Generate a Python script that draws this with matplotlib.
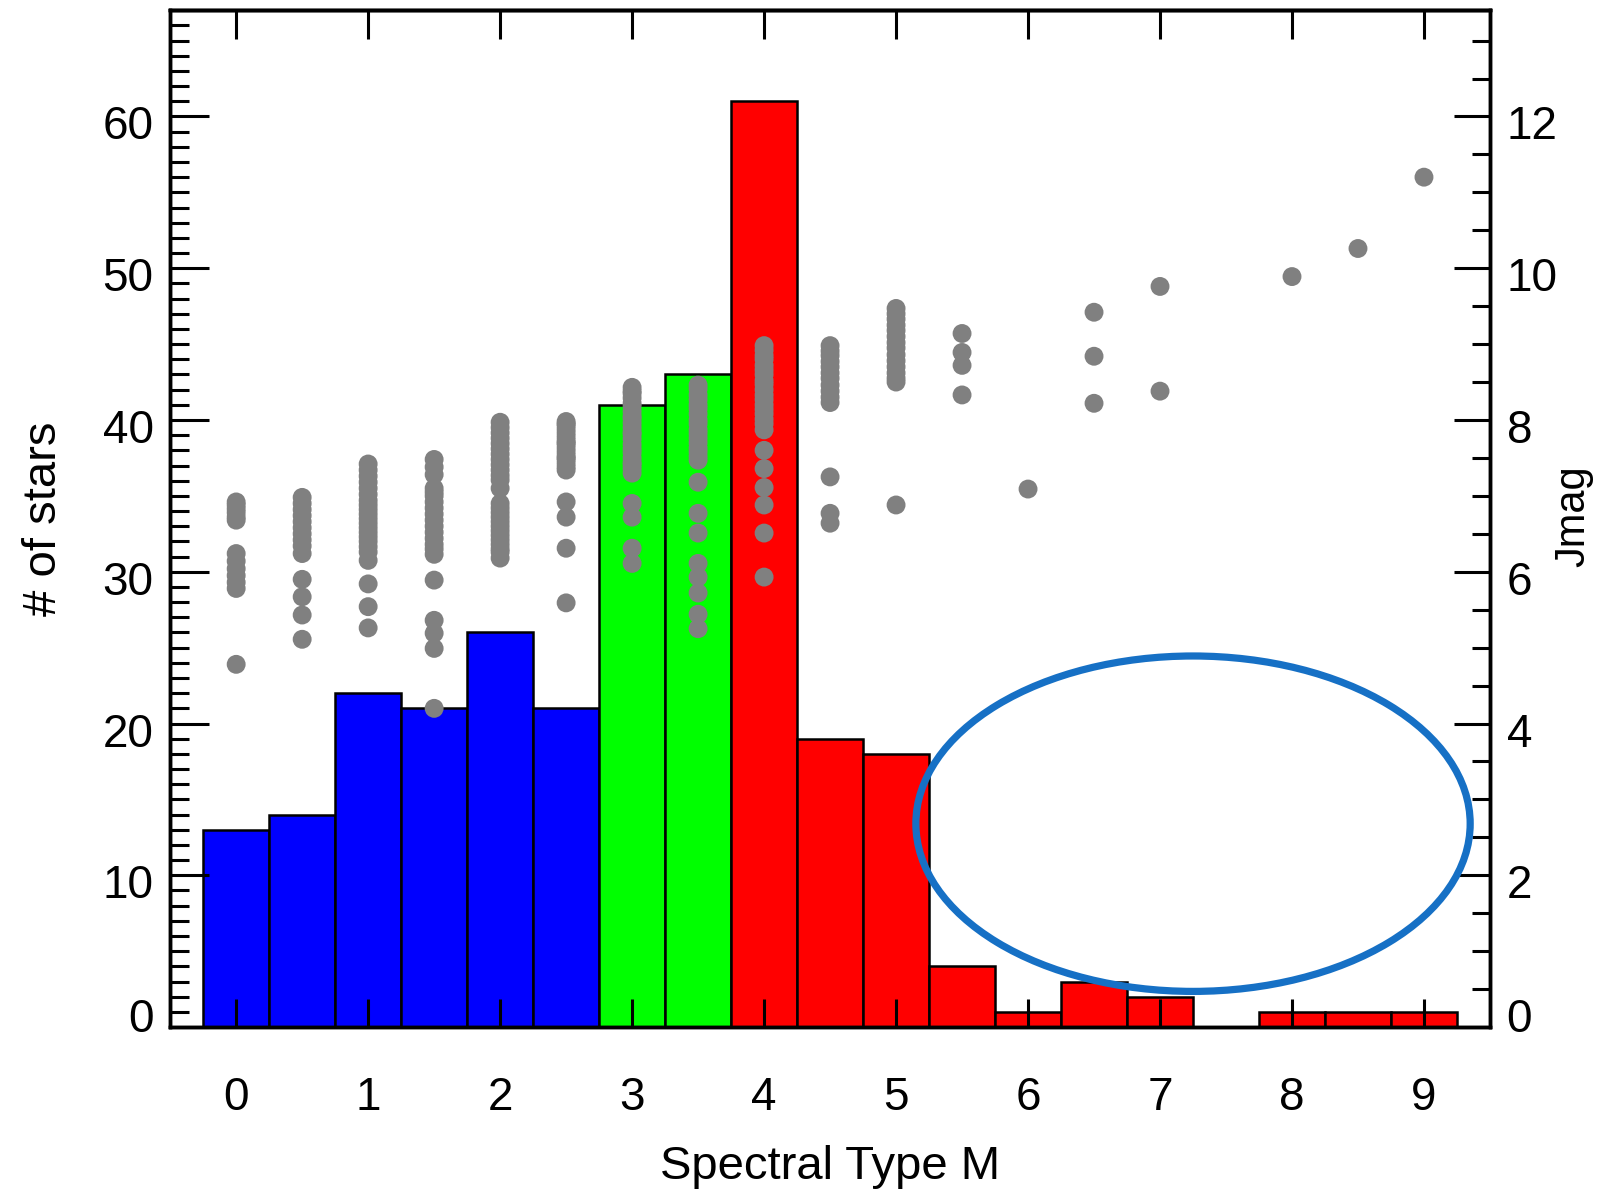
import numpy as np
import matplotlib
matplotlib.use("Agg")
import matplotlib.pyplot as plt
import matplotlib.transforms as mtransforms
from matplotlib.patches import Ellipse
from matplotlib.ticker import MultipleLocator

plt.rcParams['font.family'] = ['Liberation Sans', 'DejaVu Sans']

# Histogram: number of stars per half spectral subtype (M0 ... M9)
spt = [0, 0.5, 1, 1.5, 2, 2.5, 3, 3.5, 4, 4.5, 5, 5.5, 6, 6.5, 7, 7.5, 8, 8.5, 9]
counts = [13, 14, 22, 21, 26, 21, 41, 43, 61, 19, 18, 4, 1, 3, 2, 0, 1, 1, 1]
bar_colors = ['#0000ff'] * 6 + ['#00ff00'] * 2 + ['#ff0000'] * 11

# J magnitudes of the stars in each bin
jmag_m0 = [6.92, 6.88, 6.83, 6.78, 6.72, 6.68, 6.24, 6.14, 6.04, 5.95, 5.86, 5.78, 4.78]
jmag_m05 = [6.98, 6.9, 6.82, 6.74, 6.66, 6.58, 6.5, 6.42, 6.34, 6.24, 5.9, 5.67, 5.43, 5.11]
jmag_m1 = [7.42, 7.34, 7.26, 7.18, 7.1, 7.02, 6.94, 6.88, 6.82, 6.76, 6.7, 6.64,
           6.58, 6.52, 6.46, 6.4, 6.33, 6.26, 6.15, 5.84, 5.54, 5.26]
jmag_m15 = [7.48, 7.38, 7.28, 7.1, 7.05, 7.0, 6.92, 6.84, 6.76, 6.68, 6.6, 6.52,
            6.44, 6.36, 6.3, 6.23, 5.89, 5.36, 5.19, 4.99, 4.2]
jmag_m2 = [7.97, 7.9, 7.83, 7.76, 7.69, 7.62, 7.55, 7.48, 7.41, 7.34, 7.27, 7.21, 7.1,
           6.9, 6.84, 6.78, 6.72, 6.66, 6.6, 6.54, 6.48, 6.42, 6.36, 6.3, 6.26, 6.18]
jmag_m25 = [7.98, 7.95, 7.93, 7.88, 7.83, 7.78, 7.73, 7.7, 7.68, 7.63, 7.58, 7.53,
            7.5, 7.48, 7.43, 7.38, 7.34, 6.92, 6.72, 6.31, 5.59]
jmag_m3 = [8.43, 8.38, 8.35, 8.29, 8.22, 8.18, 8.11, 8.05, 8.02, 7.96, 7.9, 7.84, 7.81,
           7.75, 7.68, 7.62, 7.57, 7.5, 7.44, 7.41, 7.36, 7.3, 6.9, 6.72, 6.31, 6.11]
jmag_m35 = [8.46, 8.41, 8.33, 8.27, 8.2, 8.15, 8.08, 8.0, 7.95, 7.87, 7.82, 7.76, 7.7,
            7.63, 7.58, 7.52, 7.47, 7.18, 6.77, 6.51, 6.11, 5.93, 5.72, 5.44, 5.25]
jmag_m4 = [8.98, 8.92, 8.85, 8.8, 8.72, 8.66, 8.6, 8.52, 8.47, 8.4, 8.33, 8.27, 8.2,
           8.14, 8.08, 8.01, 7.95, 7.87, 7.6, 7.36, 7.11, 6.88, 6.51, 5.93]
jmag_m45 = [8.98, 8.91, 8.85, 8.77, 8.7, 8.62, 8.55, 8.46, 8.38, 8.3, 8.23, 7.25, 6.77, 6.64]
jmag_m5 = [9.47, 9.4, 9.33, 9.25, 9.18, 9.1, 9.02, 8.95, 8.86, 8.78, 8.7, 8.62, 8.55, 8.5, 6.88]
jmag_m55 = [9.14, 8.89, 8.72, 8.33]
jmag_m6 = [7.09]
jmag_m65 = [9.42, 8.84, 8.22]
jmag_m7 = [9.76, 8.38]
jmag_m75 = []
jmag_m8 = [9.89]
jmag_m85 = [10.26]
jmag_m9 = [11.2]

jmag_bins = [jmag_m0, jmag_m05, jmag_m1, jmag_m15, jmag_m2, jmag_m25, jmag_m3, jmag_m35,
             jmag_m4, jmag_m45, jmag_m5, jmag_m55, jmag_m6, jmag_m65, jmag_m7, jmag_m75,
             jmag_m8, jmag_m85, jmag_m9]

xticks = [0, 1, 2, 3, 4, 5, 6, 7, 8, 9]

fig = plt.figure(figsize=(15.98, 11.89), dpi=100)
ax = fig.add_axes([0.1065, 0.1362, 0.8259, 0.8552])

ax.bar(spt, counts, width=0.5, color=bar_colors, edgecolor='black', linewidth=1.8)
ax.set_xlim(-0.5, 9.5)
ax.set_ylim(0, 67)

ax.set_xticks(xticks)
ax.yaxis.set_major_locator(MultipleLocator(10))
ax.yaxis.set_minor_locator(MultipleLocator(1))
ax.tick_params(axis='y', which='major', direction='in', length=28, width=2.2,
               labelsize=33, pad=12, right=False)
ax.tick_params(axis='y', which='minor', direction='in', length=14, width=2.2, right=False)
ax.tick_params(axis='x', which='major', direction='in', length=20, width=2.2,
               labelsize=33, pad=35, top=False)
ax.set_xlabel('Spectral Type M', fontsize=34, labelpad=18)
ax.set_ylabel('# of stars', fontsize=34, labelpad=26)

top = ax.secondary_xaxis('top')
top.set_xticks(xticks)
top.tick_params(direction='in', length=21, width=2.2, labeltop=False)
top.spines['top'].set_linewidth(2.5)

for s in ax.spines.values():
    s.set_linewidth(2.5)

# Jmag scatter on the right axis
ax2 = ax.twinx()
for x, mags in zip(spt, jmag_bins):
    ax2.scatter([x] * len(mags), mags, s=185, color='#808080', edgecolors='none', zorder=3)
ax2.set_ylim(0, 67 / 5)
ax2.yaxis.set_major_locator(MultipleLocator(2))
ax2.yaxis.set_minor_locator(MultipleLocator(0.5))
ax2.tick_params(axis='y', which='major', direction='in', length=26, width=2.2,
                labelsize=33, pad=12)
ax2.tick_params(axis='y', which='minor', direction='in', length=13, width=2.2)
for s in ax2.spines.values():
    s.set_linewidth(2.5)
fig.text(0.9848, 0.5656, 'Jmag', rotation=90, fontsize=30, ha='center', va='center')

# y tick labels sit a little below their ticks, the zero ones are lifted
for axis_ in (ax, ax2):
    for lab in axis_.get_yticklabels():
        dy = 12 if lab.get_text() == '0' else -6
        lab.set_transform(lab.get_transform() +
                          mtransforms.ScaledTranslation(0, dy / 100, fig.dpi_scale_trans))

# highlight ellipse
ax2.add_patch(Ellipse((7.25, 2.68), 4.2, 4.42, fill=False,
                      edgecolor='#1670c5', linewidth=5.2, zorder=5))

fig.savefig('out.png', dpi=100)
